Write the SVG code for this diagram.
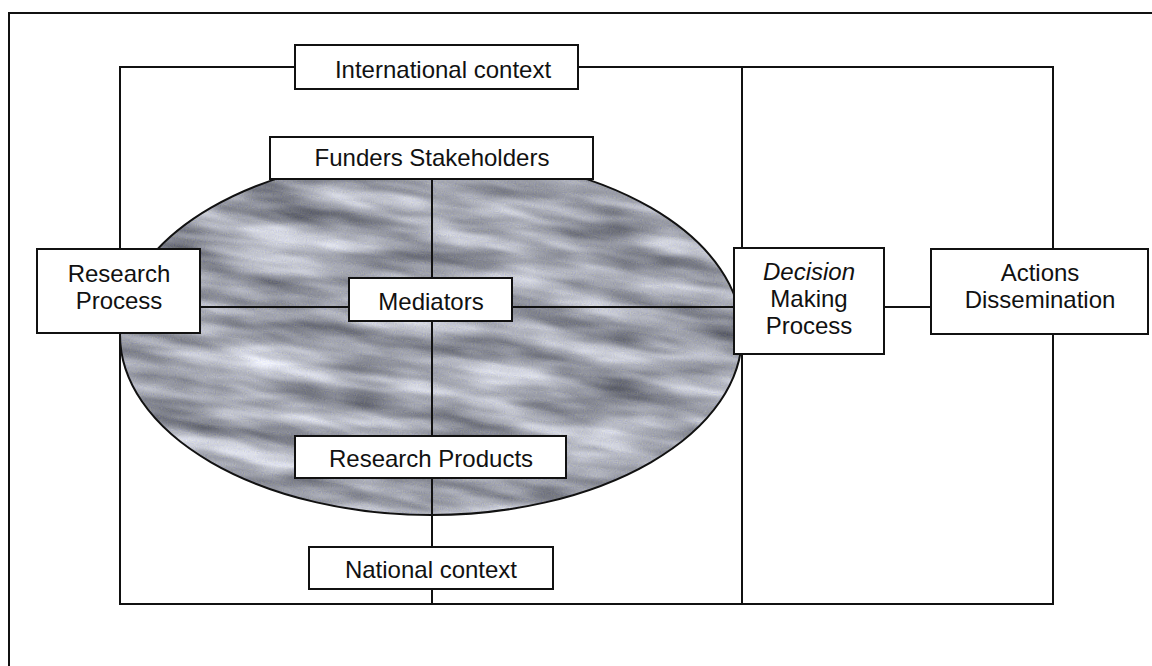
<svg xmlns="http://www.w3.org/2000/svg" width="1152" height="666" viewBox="0 0 1152 666">
<style>
.frame{fill:none;stroke:#111;stroke-width:2}
.box{fill:#fff;stroke:#111;stroke-width:2}
.ln{stroke:#111;stroke-width:2;fill:none}
text{font-family:"Liberation Sans",Arial,sans-serif;font-size:24px;fill:#111;text-anchor:middle}
.it{font-style:italic}
</style>
<defs>
<clipPath id="ellclip"><ellipse cx="431" cy="335" rx="311" ry="180"/></clipPath>
<filter id="tex" x="0" y="0" width="100%" height="100%" color-interpolation-filters="sRGB">
<feTurbulence type="fractalNoise" baseFrequency="0.009 0.045" numOctaves="3" seed="11" result="n"/>
<feColorMatrix in="n" type="matrix" values="0.75 0 0 0 0.26  0.75 0 0 0 0.27  0.75 0 0 0 0.31  0 0 0 0 1" result="base"/>
<feTurbulence type="fractalNoise" baseFrequency="0.9" numOctaves="1" seed="3" result="g"/>
<feColorMatrix in="g" type="matrix" values="1 0 0 0 0  1 0 0 0 0  0 0 1 0 0  0 0 0 0 1" result="grain"/>
<feComposite in="base" in2="grain" operator="arithmetic" k1="0" k2="1" k3="0.22" k4="-0.11"/>
</filter>
</defs>
<rect width="1152" height="666" fill="#fff"/>
<g id="outer-frame"><rect class="frame" x="9" y="13" width="1170" height="680"/></g>
<g id="context-frame"><rect class="frame" x="120" y="67" width="933" height="537"/><line class="ln" x1="742" y1="67" x2="742" y2="604"/></g>
<g id="ellipse">
<g clip-path="url(#ellclip)"><rect x="60" y="100" width="760" height="480" fill="#a8aab0" filter="url(#tex)" transform="rotate(8 431 335)"/></g>
<ellipse cx="431" cy="335" rx="311" ry="180" fill="none" stroke="#111" stroke-width="2"/>
</g>
<g id="connectors">
<line class="ln" x1="432" y1="179" x2="432" y2="604"/>
<line class="ln" x1="200" y1="307" x2="738" y2="307"/>
<line class="ln" x1="884" y1="307" x2="931" y2="307"/>
</g>
<g id="international-context"><rect class="box" x="295" y="45" width="283" height="44"/><text x="443" y="78">International context</text></g>
<g id="funders-stakeholders"><rect class="box" x="270" y="137" width="323" height="42"/><text x="432" y="166">Funders Stakeholders</text></g>
<g id="research-process"><rect class="box" x="37" y="249" width="163" height="84"/><text x="119" y="282">Research</text><text x="119" y="309">Process</text></g>
<g id="mediators"><rect class="box" x="349" y="278" width="163" height="43"/><text x="431" y="310">Mediators</text></g>
<g id="decision-making-process"><rect class="box" x="734" y="248" width="150" height="106"/><text class="it" x="809" y="280">Decision</text><text x="809" y="307">Making</text><text x="809" y="334">Process</text></g>
<g id="actions-dissemination"><rect class="box" x="931" y="249" width="217" height="85"/><text x="1040" y="281">Actions</text><text x="1040" y="308">Dissemination</text></g>
<g id="research-products"><rect class="box" x="295" y="436" width="271" height="42"/><text x="431" y="467">Research Products</text></g>
<g id="national-context"><rect class="box" x="309" y="547" width="244" height="42"/><text x="431" y="578">National context</text></g>
</svg>
